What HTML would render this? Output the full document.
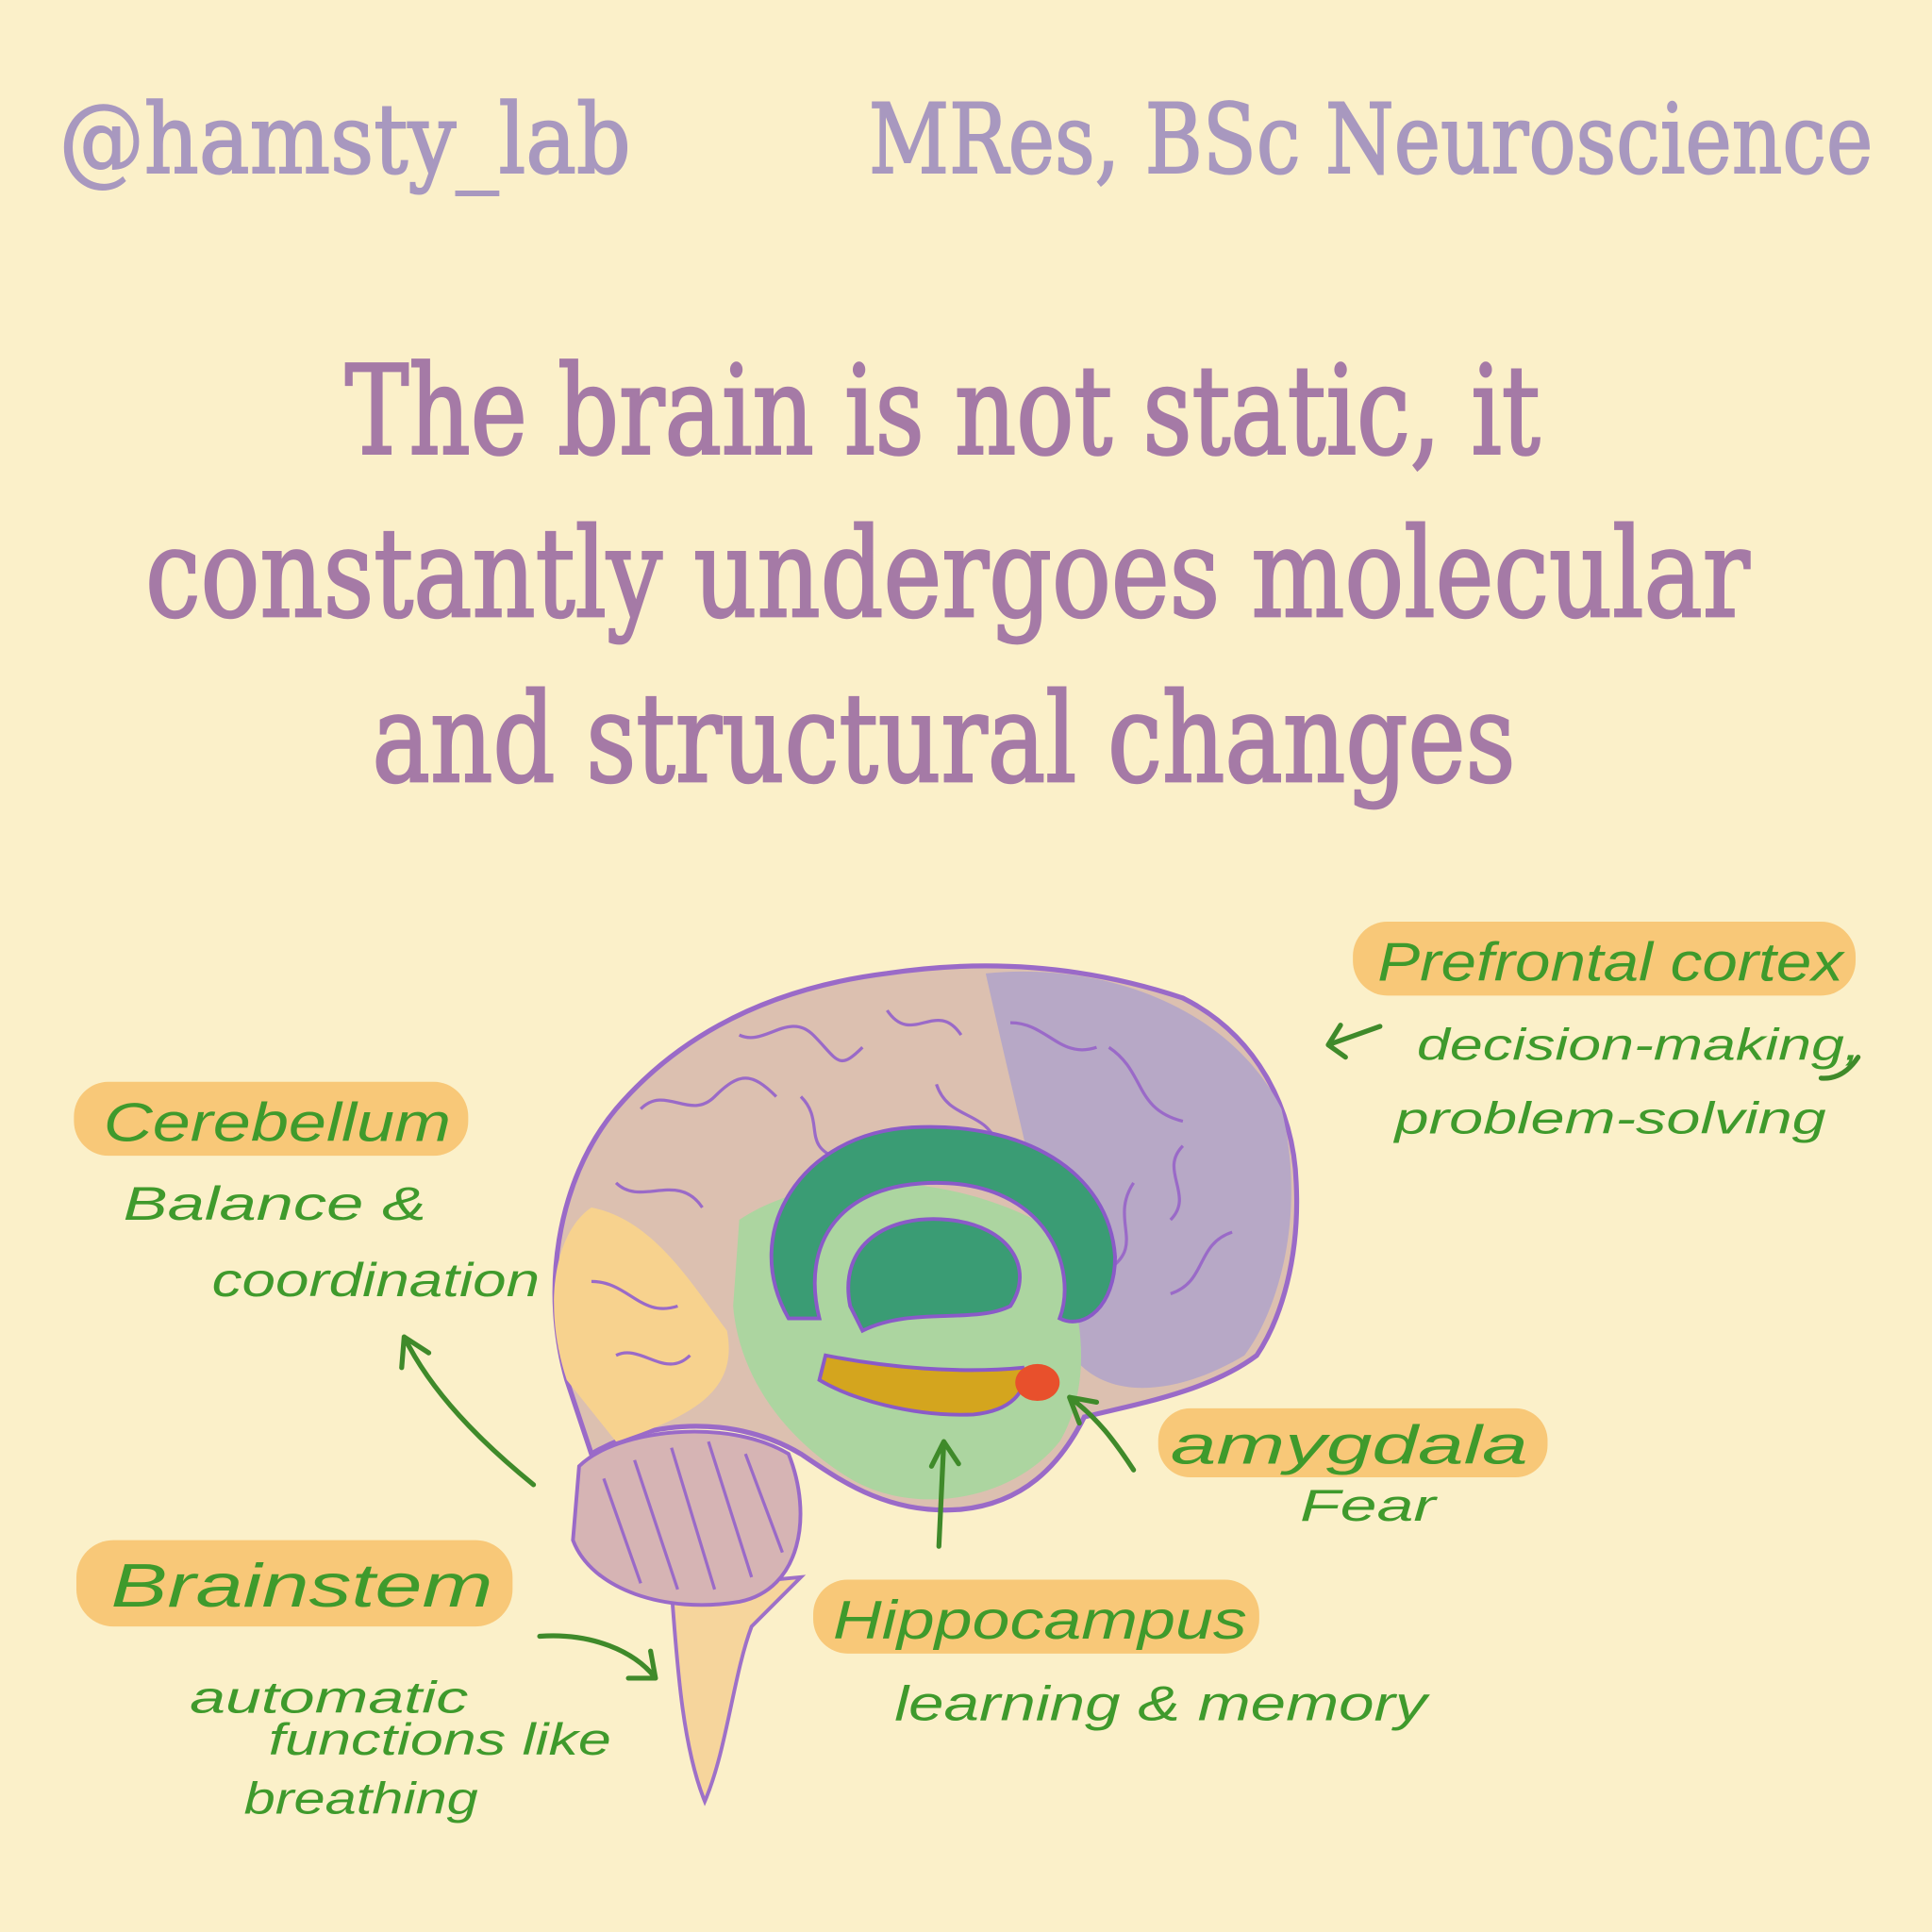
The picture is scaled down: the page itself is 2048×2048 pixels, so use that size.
<!DOCTYPE html>
<html><head><meta charset="utf-8"><style>
html,body{margin:0;padding:0;background:#fbf0c9;}
svg{display:block;}
.hd{font-family:"DejaVu Serif","Liberation Serif",serif;fill:#a898bf;stroke:#a898bf;stroke-width:1.5;}
.tt{font-family:"DejaVu Serif","Liberation Serif",serif;fill:#a57aa6;stroke:#a57aa6;stroke-width:2;}
.lb{font-family:"Liberation Sans",sans-serif;font-style:italic;fill:#3f9a2c;}
</style></head><body>
<svg width="2048" height="2048" viewBox="0 0 1568 1568" xmlns="http://www.w3.org/2000/svg">
<rect width="1568" height="1568" fill="#fbf0c9"/>
<text class="hd" x="48" y="140" font-size="78" textLength="464" lengthAdjust="spacingAndGlyphs">@hamsty_lab</text>
<text class="hd" x="705" y="140" font-size="78" textLength="815" lengthAdjust="spacingAndGlyphs">MRes, BSc Neuroscience</text>
<text class="tt" x="280" y="368" font-size="100" textLength="970" lengthAdjust="spacingAndGlyphs">The brain is not static, it</text>
<text class="tt" x="118" y="500" font-size="100" textLength="1302" lengthAdjust="spacingAndGlyphs">constantly undergoes molecular</text>
<text class="tt" x="302" y="634" font-size="100" textLength="928" lengthAdjust="spacingAndGlyphs">and structural changes</text>

<path d="M545 1290 C550 1360 555 1420 572 1462 C590 1420 595 1360 610 1320 C630 1300 640 1290 650 1280 Z" fill="#f6d49a" stroke="#9a6ac8" stroke-width="3" opacity="0.95"/>
<path d="M470 1190 C500 1160 590 1150 640 1180 C660 1230 650 1290 600 1300 C540 1310 480 1290 465 1250 Z" fill="#d6b4b4" stroke="#9a6ac8" stroke-width="3"/>
<g stroke="#9a6ac8" stroke-width="2.5" fill="none">
<path d="M490 1200 L520 1285"/><path d="M515 1185 L550 1290"/><path d="M545 1175 L580 1290"/><path d="M575 1170 L610 1280"/><path d="M605 1180 L635 1260"/>
</g>
<path d="M460 1120 C440 1050 450 960 500 900 C560 830 640 800 720 790 C820 775 900 790 960 810 C1020 840 1050 900 1052 960 C1055 1020 1040 1070 1020 1100 C980 1130 920 1140 880 1150 C860 1190 830 1220 780 1225 C720 1230 680 1200 650 1180 C600 1150 530 1150 480 1180 Z" fill="#dcc0b0" stroke="#9a6ac8" stroke-width="4"/>
<path d="M800 790 C900 780 1000 820 1040 900 C1060 980 1040 1060 1010 1100 C960 1130 900 1140 870 1100 C850 1000 820 880 800 790 Z" fill="#b7a8c6"/>
<path d="M460 1120 C440 1060 450 1000 480 980 C530 990 560 1040 590 1080 C600 1130 560 1150 500 1170 Z" fill="#f7d28e"/>
<path d="M600 990 C660 950 760 950 840 990 C880 1040 890 1120 860 1170 C820 1220 740 1230 690 1200 C640 1170 600 1120 595 1060 Z" fill="#acd5a0"/>
<g stroke="#9a6ac8" stroke-width="2.5" fill="none">
<path d="M520 900 c20 -20 40 10 60 -10 s30 -20 50 0"/><path d="M600 840 c20 10 40 -20 60 0 s20 30 40 10"/>
<path d="M720 820 c20 30 40 -10 60 20"/><path d="M820 830 c30 0 40 30 70 20"/><path d="M900 850 c30 20 20 50 60 60"/>
<path d="M960 930 c-20 20 10 40 -10 60"/><path d="M1000 1000 c-30 10 -20 40 -50 50"/><path d="M920 960 c-20 30 10 50 -20 70"/>
<path d="M500 960 c20 20 50 -10 70 20"/><path d="M480 1040 c30 0 40 30 70 20"/><path d="M500 1100 c20 -10 40 20 60 0"/>
<path d="M650 890 c20 20 0 40 30 50"/><path d="M760 880 c10 30 40 20 50 50"/>
</g>
<path d="M640 1070 C600 1000 650 920 740 915 C830 910 900 950 905 1020 C905 1060 880 1080 860 1070 C875 1030 850 960 760 960 C680 960 650 1010 665 1070 Z" fill="#3a9c74" stroke="#8a5ac8" stroke-width="3"/>
<path d="M690 1060 C680 1010 720 985 770 990 C820 995 840 1030 820 1060 C790 1075 740 1060 700 1080 Z" fill="#3a9c74" stroke="#8a5ac8" stroke-width="3"/>
<path d="M670 1100 C720 1110 780 1115 830 1110 C835 1130 820 1145 790 1148 C740 1150 690 1135 665 1120 Z" fill="#d4a51e" stroke="#8a5ac8" stroke-width="3"/>
<ellipse cx="842" cy="1122" rx="18" ry="15" fill="#e8502c"/>

<g fill="#f8c878">
<rect x="1098" y="748" width="408" height="60" rx="28"/>
<rect x="60" y="878" width="320" height="60" rx="28"/>
<rect x="940" y="1143" width="316" height="56" rx="26"/>
<rect x="62" y="1250" width="354" height="70" rx="30"/>
<rect x="660" y="1282" width="362" height="60" rx="28"/>
</g>
<text class="lb" x="1118" y="796" font-size="44" textLength="378" lengthAdjust="spacingAndGlyphs">Prefrontal cortex</text>
<text class="lb" x="1150" y="860" font-size="36" textLength="360" lengthAdjust="spacingAndGlyphs">decision-making,</text>
<text class="lb" x="1132" y="920" font-size="36" textLength="350" lengthAdjust="spacingAndGlyphs">problem-solving</text>
<text class="lb" x="84" y="926" font-size="44" textLength="282" lengthAdjust="spacingAndGlyphs">Cerebellum</text>
<text class="lb" x="100" y="990" font-size="38" textLength="246" lengthAdjust="spacingAndGlyphs">Balance &amp;</text>
<text class="lb" x="172" y="1052" font-size="38" textLength="266" lengthAdjust="spacingAndGlyphs">coordination</text>
<text class="lb" x="950" y="1188" font-size="44" textLength="290" lengthAdjust="spacingAndGlyphs">amygdala</text>
<text class="lb" x="1055" y="1234" font-size="36" textLength="110" lengthAdjust="spacingAndGlyphs">Fear</text>
<text class="lb" x="90" y="1304" font-size="50" textLength="310" lengthAdjust="spacingAndGlyphs">Brainstem</text>
<text class="lb" x="154" y="1390" font-size="36" textLength="226" lengthAdjust="spacingAndGlyphs">automatic</text>
<text class="lb" x="218" y="1424" font-size="36" textLength="278" lengthAdjust="spacingAndGlyphs">functions like</text>
<text class="lb" x="198" y="1472" font-size="36" textLength="190" lengthAdjust="spacingAndGlyphs">breathing</text>
<text class="lb" x="676" y="1330" font-size="44" textLength="336" lengthAdjust="spacingAndGlyphs">Hippocampus</text>
<text class="lb" x="726" y="1396" font-size="40" textLength="432" lengthAdjust="spacingAndGlyphs">learning &amp; memory</text>

<g stroke="#3f8a2a" stroke-width="4" fill="none" stroke-linecap="round">
<path d="M1120 833 L1078 848 M1078 848 L1088 832 M1078 848 L1092 858"/>
<path d="M433 1205 C390 1170 350 1130 328 1085 M328 1085 L326 1110 M328 1085 L348 1098"/>
<path d="M438 1328 C480 1325 515 1340 532 1362 M532 1362 L510 1362 M532 1362 L528 1340"/>
<path d="M762 1255 L766 1170 M766 1170 L756 1190 M766 1170 L778 1188"/>
<path d="M920 1193 C905 1170 890 1150 868 1134 M868 1134 L876 1155 M868 1134 L890 1138"/>
<path d="M1508 858 C1500 870 1490 876 1478 875"/>
</g>
</svg>
</body></html>
